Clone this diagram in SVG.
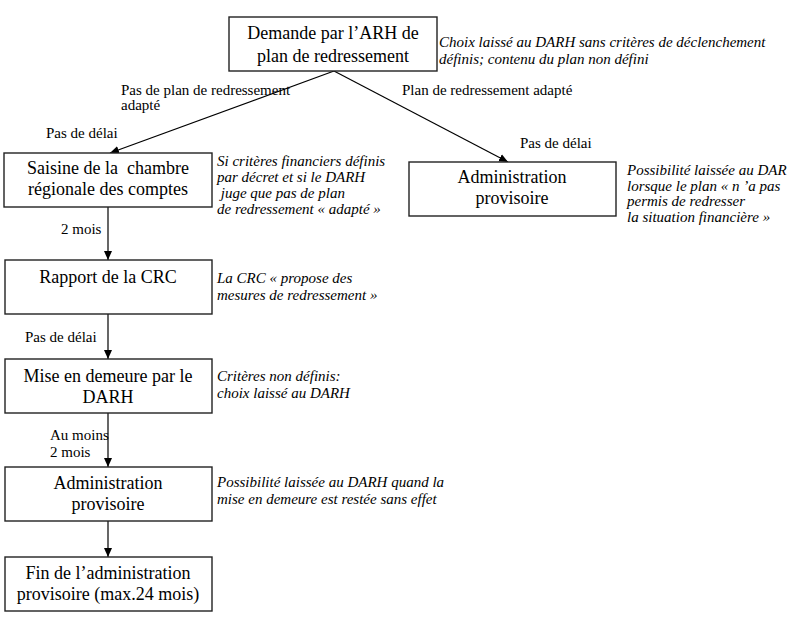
<svg xmlns="http://www.w3.org/2000/svg" width="787" height="627" viewBox="0 0 787 627" font-family="Liberation Serif, Times New Roman, DejaVu Serif, serif">
<defs>
<marker id="ah" markerWidth="10" markerHeight="10" refX="9" refY="5" orient="auto" markerUnits="userSpaceOnUse">
<path d="M0,1 L9,5 L0,9 Z" fill="#000"/>
</marker>
<style>
text{fill:#000;white-space:pre}
.box{fill:#fff;stroke:#222;stroke-width:1.4}
.t{font-size:18px;text-anchor:middle}
.l{font-size:15px}
.n{font-size:15px;font-style:italic}
.c{fill:none;stroke:#000;stroke-width:1.2;marker-end:url(#ah)}
</style>
</defs>
<rect width="787" height="627" fill="#fff"/>
<g id="connectors">
<line class="c" x1="334" y1="71" x2="110" y2="153"/>
<line class="c" x1="334" y1="71" x2="508" y2="162"/>
<line class="c" x1="108" y1="207" x2="108" y2="260"/>
<line class="c" x1="108" y1="314" x2="108" y2="359"/>
<line class="c" x1="108" y1="413" x2="108" y2="467"/>
<line class="c" x1="108" y1="521" x2="108" y2="557"/>
</g>
<g id="labels">
<text class="l" x="121" y="95">Pas de plan de redressement</text>
<text class="l" x="121" y="110">adapté</text>
<text class="l" x="402" y="95">Plan de redressement adapté</text>
<text class="l" x="46" y="138">Pas de délai</text>
<text class="l" x="520" y="148">Pas de délai</text>
<text class="l" x="61" y="234">2 mois</text>
<text class="l" x="25" y="342">Pas de délai</text>
<text class="l" x="50" y="440">Au moins</text>
<text class="l" x="50" y="457">2 mois</text>
</g>
<g id="n-demande">
<rect class="box" x="229" y="17" width="208" height="54"/>
<text class="t" x="333" y="39">Demande par l’ARH de</text>
<text class="t" x="333" y="62">plan de redressement</text>
<text class="n" x="439" y="47">Choix laissé au DARH sans critères de déclenchement</text>
<text class="n" x="439" y="64">définis; contenu du plan non défini</text>
</g>
<g id="n-saisine">
<rect class="box" x="4" y="153" width="208" height="54"/>
<text class="t" x="108" y="174">Saisine de la  chambre</text>
<text class="t" x="108" y="195">régionale des comptes</text>
<text class="n" x="217" y="166">Si critères financiers définis</text>
<text class="n" x="217" y="182">par décret et si le DARH</text>
<text class="n" x="217" y="198"> juge que pas de plan</text>
<text class="n" x="217" y="214">de redressement « adapté »</text>
</g>
<g id="n-admin1">
<rect class="box" x="409" y="162" width="207" height="54"/>
<text class="t" x="512" y="183">Administration</text>
<text class="t" x="512" y="204">provisoire</text>
<text class="n" x="627" y="175">Possibilité laissée au DAR</text>
<text class="n" x="627" y="191">lorsque le plan « n ’a pas</text>
<text class="n" x="627" y="206">permis de redresser</text>
<text class="n" x="627" y="222">la situation financière »</text>
</g>
<g id="n-rapport">
<rect class="box" x="5" y="260" width="207" height="54"/>
<text class="t" x="108" y="283">Rapport de la CRC</text>
<text class="n" x="217" y="283">La CRC « propose des</text>
<text class="n" x="217" y="300">mesures de redressement »</text>
</g>
<g id="n-mise">
<rect class="box" x="5" y="359" width="207" height="54"/>
<text class="t" x="108" y="382">Mise en demeure par le</text>
<text class="t" x="108" y="403">DARH</text>
<text class="n" x="217" y="381">Critères non définis:</text>
<text class="n" x="217" y="398">choix laissé au DARH</text>
</g>
<g id="n-admin2">
<rect class="box" x="5" y="467" width="207" height="54"/>
<text class="t" x="108" y="489">Administration</text>
<text class="t" x="108" y="510">provisoire</text>
<text class="n" x="217" y="487">Possibilité laissée au DARH quand la</text>
<text class="n" x="217" y="504">mise en demeure est restée sans effet</text>
</g>
<g id="n-fin">
<rect class="box" x="5" y="557" width="207" height="54"/>
<text class="t" x="108" y="579">Fin de l’administration</text>
<text class="t" x="108" y="600">provisoire (max.24 mois)</text>
</g>
</svg>
